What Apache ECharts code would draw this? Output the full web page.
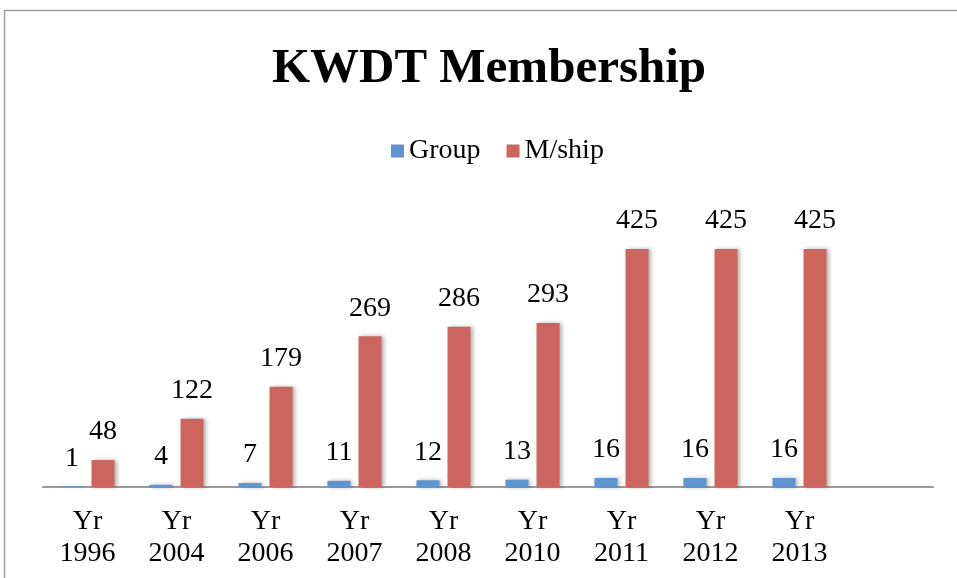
<!DOCTYPE html>
<html>
<head>
<meta charset="utf-8">
<script src="https://cdn.jsdelivr.net/npm/echarts@6/dist/echarts.min.js"></script>
<style>
  html, body { margin: 0; padding: 0; background: #fff; }
  #chart { width: 957px; height: 578px; }
</style>
</head>
<body>
<div id="chart"></div>
<script>
// data
var years = ['Yr\n1996', 'Yr\n2004', 'Yr\n2006', 'Yr\n2007', 'Yr\n2008', 'Yr\n2010', 'Yr\n2011', 'Yr\n2012', 'Yr\n2013'];
var groupVals = [1, 4, 7, 11, 12, 13, 16, 16, 16];
var mshipVals = [48, 122, 179, 269, 286, 293, 425, 425, 425];

var serif = '"Liberation Serif", "DejaVu Serif", serif';

var myChart = echarts.init(document.getElementById('chart'));
var option = {
  backgroundColor: '#fff',
  animation: false,
  graphic: [{
    type: 'rect',
    shape: { x: 4.5, y: 10.5, width: 1000, height: 600 },
    style: { fill: 'none', stroke: '#a0a0a0', lineWidth: 1.5 },
    silent: true
  }],
  title: {
    text: 'KWDT Membership',
    left: 484,
    textAlign: 'center',
    top: 40,
    textStyle: { fontFamily: serif, fontWeight: 'bold', fontSize: 49, color: '#000' }
  },
  legend: {
    top: 132,
    left: 386,
    icon: 'rect',
    itemWidth: 13,
    itemHeight: 13,
    itemGap: 26,
    textStyle: { fontFamily: serif, fontSize: 28, color: '#000' },
    data: ['Group', 'M/ship']
  },
  grid: { left: 43, right: 24, top: 207, bottom: 91 },
  xAxis: {
    type: 'category',
    data: years,
    max: 9,
    axisLine: { lineStyle: { color: '#9a9a9a', width: 2 } },
    axisTick: { show: false },
    axisLabel: {
      fontFamily: serif, fontSize: 28, color: '#000',
      margin: 19, lineHeight: 32, interval: 0
    }
  },
  yAxis: {
    type: 'value',
    min: 0, max: 500,
    show: false
  },
  series: [{
    name: 'Group',
    type: 'bar',
    data: groupVals,
    barWidth: 23,
    barGap: '35%',
    itemStyle: {
      color: '#5f94cf',
      shadowColor: 'rgba(0,0,0,0.3)', shadowBlur: 4, shadowOffsetX: 2
    },
    label: {
      show: true, position: 'top', distance: 14,
      fontFamily: serif, fontSize: 28, color: '#000'
    }
  }, {
    name: 'M/ship',
    type: 'bar',
    data: mshipVals,
    barWidth: 23,
    itemStyle: {
      color: '#cd655f',
      shadowColor: 'rgba(0,0,0,0.3)', shadowBlur: 4, shadowOffsetX: 2
    },
    label: {
      show: true, position: 'top', distance: 14,
      fontFamily: serif, fontSize: 28, color: '#000'
    }
  }]
};
myChart.setOption(option);
</script>
</body>
</html>
